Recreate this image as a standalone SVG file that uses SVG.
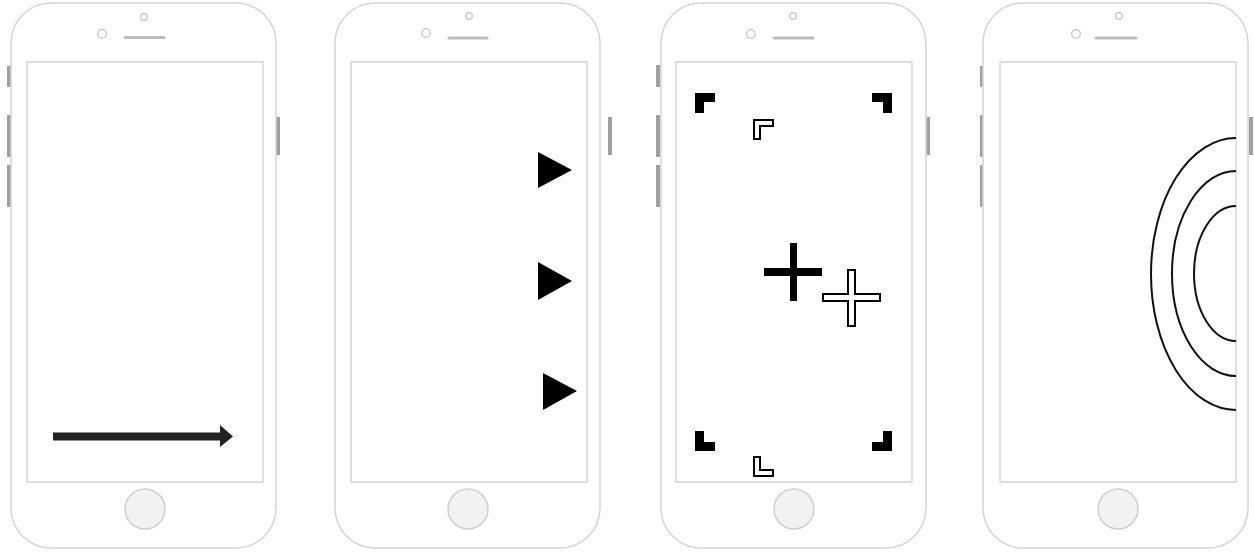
<svg xmlns="http://www.w3.org/2000/svg" width="1254" height="552" viewBox="0 0 1254 552">
<style>
.body{fill:#fff;stroke:#d4d4d4;stroke-width:1.5}
.screen{fill:#fff;stroke:#d4d4d4;stroke-width:1.5}
.btn{fill:#a0a0a0}
.cam{fill:#fff;stroke:#c4c4c4;stroke-width:1.3}
.spk{stroke:#bdbdbd;stroke-width:3;stroke-linecap:round}
.home{fill:#f2f2f2;stroke:#cfcfcf;stroke-width:1.5}
.blk{fill:#000}
.hol{fill:#fff;stroke:#000;stroke-width:2}
.arc{fill:none;stroke:#111;stroke-width:2}
</style>
<rect width="1254" height="552" fill="#fff"/>
<g id="phone1">
<rect class="btn" x="7" y="66" width="4" height="21"/>
<rect class="btn" x="7" y="115" width="4" height="42"/>
<rect class="btn" x="7" y="165" width="4" height="42"/>
<rect class="btn" x="276" y="117" width="4" height="38"/>
<rect class="body" x="11" y="3" width="265" height="545" rx="40"/>
<rect class="screen" x="27" y="62" width="236" height="420"/>
<circle class="cam" cx="144" cy="17" r="3.3"/>
<circle class="cam" cx="102" cy="34" r="4.3"/>
<line class="spk" x1="125" y1="37.5" x2="164" y2="37.5"/>
<circle class="home" cx="145" cy="509" r="20"/>
<line x1="53" y1="436.5" x2="222" y2="436.5" stroke="#222" stroke-width="8"/>
<polygon points="220,425 233,436.5 220,447" fill="#222"/>
</g>
<g id="phone2">
<rect class="btn" x="608" y="117" width="4" height="38"/>
<rect class="body" x="335" y="3" width="265" height="545" rx="40"/>
<rect class="screen" x="351" y="62" width="236" height="420"/>
<circle class="cam" cx="469" cy="16" r="3.3"/>
<circle class="cam" cx="426" cy="33" r="4.3"/>
<line class="spk" x1="449" y1="38" x2="487" y2="38"/>
<circle class="home" cx="468" cy="509" r="20"/>
<polygon class="blk" points="538,152 572,170 538,188"/>
<polygon class="blk" points="538,262 572,281 538,300"/>
<polygon class="blk" points="543,373 577,391 543,410"/>
</g>
<g id="phone3">
<rect class="btn" x="656" y="65" width="4" height="22"/>
<rect class="btn" x="656" y="115" width="4" height="42"/>
<rect class="btn" x="656" y="165" width="4" height="42"/>
<rect class="btn" x="926" y="117" width="4" height="38"/>
<rect class="body" x="661" y="3" width="265" height="545" rx="40"/>
<rect class="screen" x="676" y="62" width="236" height="420"/>
<circle class="cam" cx="793" cy="16" r="3.3"/>
<circle class="cam" cx="751" cy="34" r="4.3"/>
<line class="spk" x1="774" y1="38" x2="813" y2="38"/>
<circle class="home" cx="794" cy="509" r="20"/>
<polygon class="blk" points="695,93 715,93 715,102 704,102 704,113 695,113"/>
<polygon class="blk" points="872,93 892,93 892,113 883,113 883,102 872,102"/>
<polygon class="blk" points="695,431 704,431 704,442 715,442 715,451 695,451"/>
<polygon class="blk" points="883,431 892,431 892,451 872,451 872,442 883,442"/>
<polygon class="hol" points="754,120 773,120 773,126 760,126 760,139 754,139"/>
<polygon class="hol" points="754,457 760,457 760,470 773,470 773,476 754,476"/>
<polygon class="blk" points="790,243 797,243 797,268 822,268 822,276 797,276 797,301 790,301 790,276 764,276 764,268 790,268"/>
<polygon class="hol" points="848,270 855,270 855,294 880,294 880,301 855,301 855,326 848,326 848,301 823,301 823,294 848,294"/>
</g>
<g id="phone4">
<rect class="btn" x="980" y="66" width="4" height="21"/>
<rect class="btn" x="980" y="115" width="4" height="42"/>
<rect class="btn" x="980" y="165" width="4" height="42"/>
<rect class="btn" x="1249" y="117" width="4" height="38"/>
<rect class="body" x="983" y="3" width="265" height="545" rx="40"/>
<rect class="screen" x="1000" y="62" width="236" height="420"/>
<circle class="cam" cx="1119" cy="16" r="3.3"/>
<circle class="cam" cx="1076" cy="34" r="4.3"/>
<line class="spk" x1="1096" y1="38" x2="1136" y2="38"/>
<circle class="home" cx="1118" cy="509" r="20"/>
<path class="arc" d="M1236,138 A85,136 0 0 0 1236,410"/>
<path class="arc" d="M1236,171 A64,102.5 0 0 0 1236,376"/>
<path class="arc" d="M1236,206 A42,67.5 0 0 0 1236,341"/>
</g>
<g id="connectors"/>
</svg>
